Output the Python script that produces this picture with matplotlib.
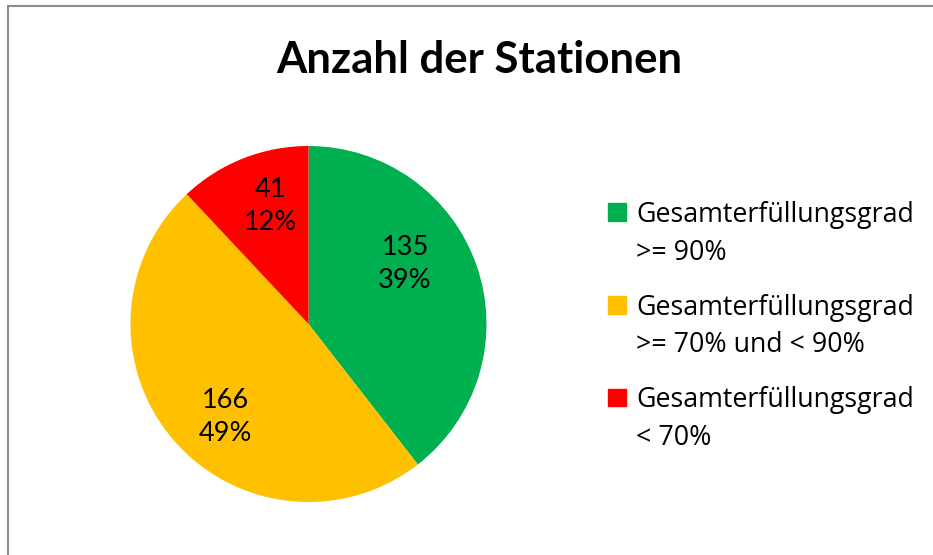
import matplotlib
matplotlib.use('Agg')
from matplotlib import pyplot as plt
from matplotlib.patches import Rectangle

# data
categories = ['Gesamterfüllungsgrad\n>= 90%',
              'Gesamterfüllungsgrad\n>= 70% und < 90%',
              'Gesamterfüllungsgrad\n< 70%']
counts = [135, 166, 41]
colors = ['#00B050', '#FFC000', '#FF0000']
title = 'Anzahl der Stationen'

# label spots inside the wedges (pie units)
label_pos = [(0.542, 0.339), (-0.469, -0.520), (-0.215, 0.661)]

W, H = 933, 555
fig = plt.figure(figsize=(W / 100, H / 100), dpi=100)
plt.rcParams['font.family'] = ['Lato', 'DejaVu Sans']

def fx(x):
    return x / W

def fy(y):
    return 1 - y / H

# outer frame (left and top edges only visible)
fig.patches.append(Rectangle((fx(8), fy(H + 20)), fx(W + 20), (H + 14) / H,
                             transform=fig.transFigure, fill=False,
                             edgecolor='#8c8c8c', linewidth=1.5))

# pie
cx, cy, r = 308.5, 324, 178
ax = fig.add_axes([fx(cx - r), fy(cy + r), 2 * r / W, 2 * r / H])
wedges, _ = ax.pie(counts, colors=colors, startangle=90, counterclock=False,
                   wedgeprops=dict(linewidth=0))
ax.set_xlim(-1, 1)
ax.set_ylim(-1, 1)
ax.axis('off')

total = sum(counts)
for n, (px, py) in zip(counts, label_pos):
    pct = round(100 * n / total)
    ax.text(px, py, '%d\n%d%%' % (n, pct), ha='center', va='center',
            fontsize=19.5, linespacing=1.4, color='black')

fig.text(fx(479.5), fy(73), title, ha='center', va='baseline',
         fontsize=31.5, fontweight='bold')

# legend
for i, (lab, col) in enumerate(zip(categories, colors)):
    base = 222 + i * 92.5
    fig.patches.append(Rectangle((fx(608), fy(221 + i * 92.5)), fx(17.5), 17.5 / H,
                                 transform=fig.transFigure, color=col))
    for j, line in enumerate(lab.split('\n')):
        fig.text(fx(636), fy(base + j * 38), line, ha='left', va='baseline',
                 fontsize=19.3, family=['Open Sans', 'DejaVu Sans'])

plt.savefig('out.png', dpi=100)
